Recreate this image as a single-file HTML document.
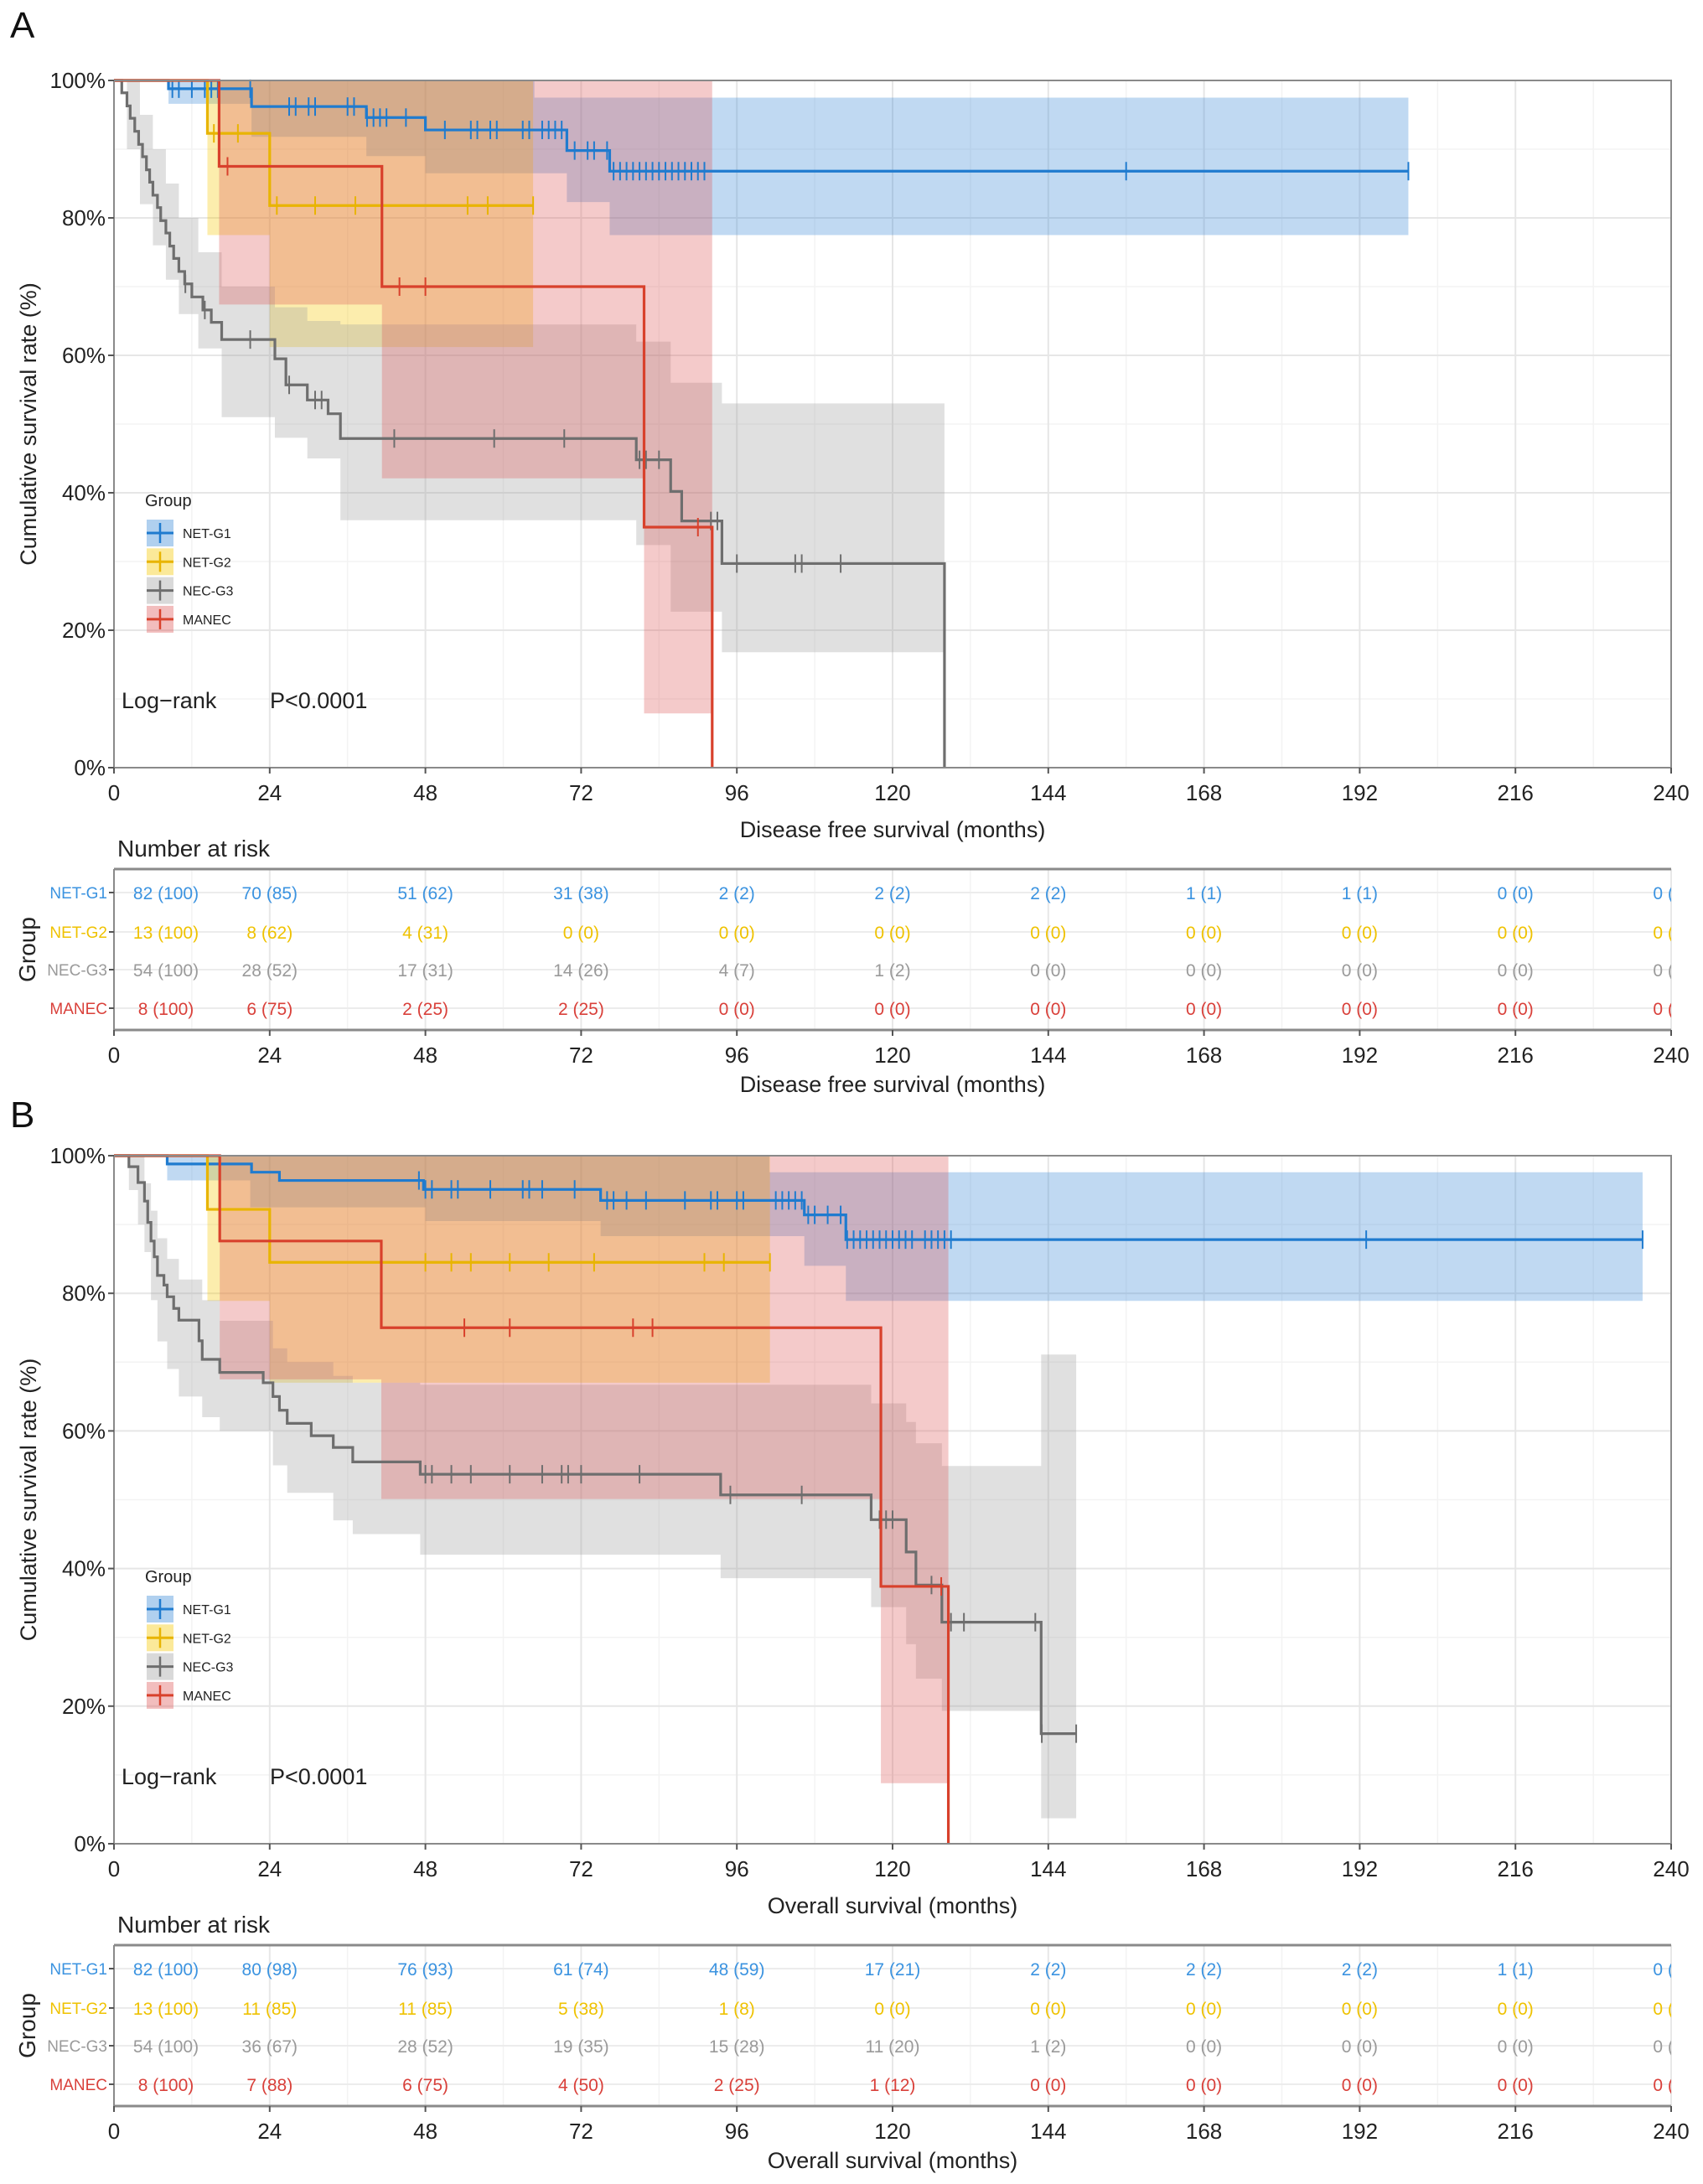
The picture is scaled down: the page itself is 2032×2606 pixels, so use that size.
<!DOCTYPE html>
<html><head><meta charset="utf-8"><style>
html,body{margin:0;padding:0;background:#fff;}
svg{display:block;font-family:"Liberation Sans",Arial,sans-serif;}
</style></head><body>
<svg id="fig" width="2032" height="2606" viewBox="0 0 2032 2606" xmlns="http://www.w3.org/2000/svg">
<defs><clipPath id="clipT"><rect x="136" y="0" width="1858" height="2606"/></clipPath></defs>
</svg>
<script>
// ---------- Panel A data (disease free survival) ----------
const aG1T=[0,8.4,21.2,38.9,48,69.8,76.4,199.5];
const aG1S=[100,98.8,96.2,94.6,92.8,89.8,86.8];
const aG1CT=[0,8.4,21.2,38.9,48,64.8,69.8,76.4,199.5];
const aG1CL=[100,96.6,91.8,89,86.5,86.5,82.3,77.5];
const aG1CU=[100,100,100,100,100,97.5,97.5,97.5];
const aG1Cens=[9,10,12,14,15,16,21,27,28,30,31,36,37,39,40,41,42,45,51,55,56,58,59,63,64,66,67,68,69,71,73,74,76,77,78,79,80,81,82,83,84,85,86,87,88,89,90,91,156,199.5];

const aG2T=[0,14.4,24,64.6];
const aG2S=[100,92.3,81.8];
const aG2CL=[100,77.5,61.2];
const aG2CU=[100,100,100];
const aG2Cens=[15.4,19.1,25.1,31,37.2,54.5,57.6,64.6];

const aG3T=[0,1.2,2,2.5,3.2,3.8,4.4,5,5.5,6,6.7,7.2,8,8.6,9.2,10,10.9,12,13.7,15,16.6,24.8,26.5,29.8,33,34.9,80.5,85.8,87.5,93.7,128];
const aG3S=[100,98.2,96.3,94.5,92.6,90.7,88.9,87,85.2,83.3,81.5,79.6,77.8,75.9,74.1,72.2,70.4,68.5,66.6,64.8,62.3,59.5,55.7,53.5,51.5,47.9,44.8,40.2,35.9,29.7];
const aG3CT=[0,2,4,6,8,10,13,16.6,24.8,29.8,34.9,80.5,85.8,93.7,128];
const aG3CL=[100,90,82,76,71,66,61,51,48,45,36,32.4,22.7,16.8];
const aG3CU=[100,100,95,90,85,80,75,70,67,65,64.5,62,56,53];
const aG3Cens=[11,14,21,27,31,32,43.2,58.6,69.4,81,82,84,92,93,96,105,106,112];

const aMaT=[0,16.2,41.3,81.7,92.2];
const aMaS=[100,87.5,70,35];
const aMaCL=[100,67.4,42.1,7.9];
const aMaCU=[100,100,100,100];
const aMaCens=[17.5,44,48,90];

// ---------- Panel B data (overall survival) ----------
const bG1T=[0,8.2,21.2,25.5,47.7,75,106.4,112.8,235.6];
const bG1S=[100,98.8,97.6,96.4,95.1,93.5,91.4,87.8];
const bG1CT=[0,8.2,21,48,75,101,106.4,112.8,235.6];
const bG1CL=[100,96.4,92.5,90.5,88.3,88.3,84,78.9];
const bG1CU=[100,100,100,100,100,97.6,97.6,97.6];
const bG1Cens=[47,48,49,52,53,58,63,64,66,71,76,77,79,82,88,92,93,96,97,102,103,104,105,106,107,108,110,112,113,114,115,116,117,118,119,120,121,122,123,125,126,127,128,129,193,235.6];

const bG2T=[0,14.4,24,101.1];
const bG2S=[100,92.2,84.5];
const bG2CL=[100,78.9,67];
const bG2CU=[100,100,100];
const bG2Cens=[48,52,55,61,67,74,91,94,101.1];

const bG3T=[0,2.3,3.7,4.7,5.2,5.7,6.2,6.7,7.7,8.2,9.2,10,13.1,13.6,16.3,23,24.5,25.5,26.7,30.4,33.8,36.8,47.2,93.5,116.7,122.1,123.6,127.6,142.9,148.3];
const bG3S=[100,98.4,96.1,93.4,90.3,87.6,85.3,82.6,81.2,79.5,77.8,76.1,73.1,70.4,68.5,67,65,63,61.1,59.3,57.6,55.5,53.7,50.7,47.1,42.4,37.6,32.2,16];
const bG3CT=[0,2.3,3.7,4.7,5.7,6.7,8.2,10,13.6,16.3,24.5,26.7,33.8,36.8,47.2,93.5,116.7,122.1,123.6,127.6,142.9,148.3];
const bG3CL=[100,95,90,86,79,73,69,65,62,60,55,51,47,45,42,38.6,34.4,29,24,19.3,3.7];
const bG3CU=[100,100,100,96,92,88,85,82,79,76,72,70,68,67,66.7,66.7,64,61.3,58.2,54.9,71.1];
const bG3Cens=[48,49,52,55,61,66,69,70,72,81,95,106,118,119,120,126,129,131,142,143,148.3];

const bMaT=[0,16.3,41.2,118.2,128.6];
const bMaS=[100,87.6,75,37.4];
const bMaCL=[100,67.5,50.1,8.8];
const bMaCU=[100,100,100,100];
const bMaCens=[54,61,80,83,127.5];

// ---------- risk tables ----------
const riskTimes=[0,24,48,72,96,120,144,168,192,216,240];
const groupNames=["NET-G1","NET-G2","NEC-G3","MANEC"];
const aRiskG1=["82 (100)","70 (85)","51 (62)","31 (38)","2 (2)","2 (2)","2 (2)","1 (1)","1 (1)","0 (0)","0 (0)"];
const aRiskG2=["13 (100)","8 (62)","4 (31)","0 (0)","0 (0)","0 (0)","0 (0)","0 (0)","0 (0)","0 (0)","0 (0)"];
const aRiskG3=["54 (100)","28 (52)","17 (31)","14 (26)","4 (7)","1 (2)","0 (0)","0 (0)","0 (0)","0 (0)","0 (0)"];
const aRiskMa=["8 (100)","6 (75)","2 (25)","2 (25)","0 (0)","0 (0)","0 (0)","0 (0)","0 (0)","0 (0)","0 (0)"];
const bRiskG1=["82 (100)","80 (98)","76 (93)","61 (74)","48 (59)","17 (21)","2 (2)","2 (2)","2 (2)","1 (1)","0 (0)"];
const bRiskG2=["13 (100)","11 (85)","11 (85)","5 (38)","1 (8)","0 (0)","0 (0)","0 (0)","0 (0)","0 (0)","0 (0)"];
const bRiskG3=["54 (100)","36 (67)","28 (52)","19 (35)","15 (28)","11 (20)","1 (2)","0 (0)","0 (0)","0 (0)","0 (0)"];
const bRiskMa=["8 (100)","7 (88)","6 (75)","4 (50)","2 (25)","1 (12)","0 (0)","0 (0)","0 (0)","0 (0)","0 (0)"];
const xTicks=[0,24,48,72,96,120,144,168,192,216,240];
const yTicks=[0,20,40,60,80,100];
const yTickLabels=["0%","20%","40%","60%","80%","100%"];

const NS="http://www.w3.org/2000/svg";
const svg=document.getElementById('fig');
const LINE={g1:"#1f7bcf",g2:"#e8b400",g3:"#6e6e6e",ma:"#d8412c"};
const BAND={g1:"#3a8ad6",g2:"#f5c800",g3:"#a0a0a0",ma:"#de5a5a"};
const TXT={g1:"#3b93e0",g2:"#efc200",g3:"#9a9a9a",ma:"#d9403a"};
function mk(tag,attrs,parent){const e=document.createElementNS(NS,tag);for(const k in attrs)e.setAttribute(k,attrs[k]);(parent||svg).appendChild(e);return e;}
const X0=136,X1=1994;
function xs(m){return X0+m*(X1-X0)/240;}

function drawPanel(opt){
  const top=opt.top,bot=opt.bot,dy=opt.dy;
  const ys=p=>bot-p*(bot-top)/100;
  const g=mk('g',{});
  
  
  // grid
  for(let m=12;m<240;m+=24){const l=mk('line',{x1:xs(m),x2:xs(m),y1:top,y2:bot,stroke:'#f3f3f3','stroke-width':1.5},g);}
  for(let p=10;p<100;p+=20){const l=mk('line',{x1:X0,x2:X1,y1:ys(p),y2:ys(p),stroke:'#f3f3f3','stroke-width':1.5},g);}
  xTicks.forEach(m=>{const l=mk('line',{x1:xs(m),x2:xs(m),y1:top,y2:bot,stroke:'#e6e6e6','stroke-width':2},g);});
  yTicks.forEach(p=>{const l=mk('line',{x1:X0,x2:X1,y1:ys(p),y2:ys(p),stroke:'#e6e6e6','stroke-width':2},g);});
  // bands
  opt.series.forEach(s=>{
    let d='';const T=s.ct,U=s.cu,L=s.cl;
    for(let i=0;i<U.length;i++){d+=(i?'L':'M')+xs(T[i])+','+ys(U[i])+'L'+xs(T[i+1])+','+ys(U[i]);}
    for(let i=L.length-1;i>=0;i--){d+='L'+xs(T[i+1])+','+ys(L[i])+'L'+xs(T[i])+','+ys(L[i]);}
    const p=mk('path',{d:d+'Z',fill:BAND[s.key],'fill-opacity':0.32,stroke:'none'},g);
    
    
  });
  // lines
  opt.series.forEach(s=>{
    let d='M'+xs(s.t[0])+','+ys(s.s[0]);
    for(let i=0;i<s.s.length;i++){
      d+='L'+xs(s.t[i])+','+ys(s.s[i])+'L'+xs(s.t[i+1])+','+ys(s.s[i]);
    }
    if(s.zero)d+='L'+xs(s.t[s.t.length-1])+','+ys(0);
    const p=mk('path',{d:d,fill:'none',stroke:LINE[s.key],'stroke-width':3.2},g);
    
    
    s.cens.forEach(c=>{
      let v=s.s[0];for(let i=0;i<s.s.length;i++){if(c>=s.t[i])v=s.s[i];}
      const l=mk('line',{x1:xs(c),x2:xs(c),y1:ys(v)-11,y2:ys(v)+11,stroke:LINE[s.key],'stroke-width':2},g);
      
      
    });
  });
  // frame
  const fr=mk('rect',{x:X0,y:top,width:X1-X0,height:bot-top,fill:'none',stroke:'#8a8a8a','stroke-width':2},g);
  
  // y ticks
  yTicks.forEach((p,i)=>{
    mk('line',{x1:X0-7,x2:X0,y1:ys(p),y2:ys(p),stroke:'#555','stroke-width':2},g);
    const t=mk('text',{x:126,y:ys(p)+9,'text-anchor':'end','font-size':26,fill:'#222'},g);
    t.textContent=yTickLabels[i];
    
  });
  xTicks.forEach(m=>{
    mk('line',{x1:xs(m),x2:xs(m),y1:bot,y2:bot+7,stroke:'#555','stroke-width':2},g);
    const t=mk('text',{x:xs(m),y:bot+39,'text-anchor':'middle','font-size':26,fill:'#222'},g);
    t.textContent=m;
    
  });
  const xt=mk('text',{x:1065,y:bot+83,'text-anchor':'middle','font-size':27,fill:'#222'},g);
  xt.textContent=opt.xtitle;
  const yt=mk('text',{x:0,y:0,'text-anchor':'middle','font-size':27,fill:'#222',transform:'translate(43,'+((top+bot)/2)+') rotate(-90)'},g);
  yt.textContent='Cumulative survival rate (%)';
  // legend
  const lg=mk('g',{},g);
  const lt=mk('text',{x:173,y:opt.legY,'font-size':20,fill:'#222'},lg);lt.textContent='Group';
  
  opt.series.forEach((s,i)=>{
    const cy=opt.legY+32+i*34.3;
    const e=mk('g',{},lg);
    mk('rect',{x:175,y:cy-16,width:32,height:32,fill:BAND[s.key],'fill-opacity':0.4},e);
    mk('line',{x1:175,x2:207,y1:cy,y2:cy,stroke:LINE[s.key],'stroke-width':3},e);
    mk('line',{x1:191,x2:191,y1:cy-12,y2:cy+12,stroke:LINE[s.key],'stroke-width':2.5},e);
    const tx=mk('text',{x:218,y:cy+6,'font-size':16,fill:'#222'},e);tx.textContent=s.label;
  });
  const lr=mk('text',{x:145,y:opt.logY,'font-size':27,fill:'#222'},g);lr.textContent='Log\u2212rank';
  
  const pv=mk('text',{x:322,y:opt.logY,'font-size':27,fill:'#222'},g);pv.textContent='P<0.0001';
  
  // panel letter
  const pl=mk('text',{x:12,y:opt.letterY,'font-size':44,fill:'#111'},g);pl.textContent=opt.letter;
  

  // risk table
  const tg=mk('g',{},g);
  const nr=mk('text',{x:140,y:1022+dy,'font-size':28,fill:'#222'},tg);nr.textContent='Number at risk';
  
  const tt=1037+dy,tb=1229+dy;const rowsY=[1065,1112,1157,1203].map(v=>v+dy);
  for(let m=12;m<240;m+=24)mk('line',{x1:xs(m),x2:xs(m),y1:tt,y2:tb,stroke:'#f3f3f3','stroke-width':1.5},tg);
  xTicks.forEach(m=>mk('line',{x1:xs(m),x2:xs(m),y1:tt,y2:tb,stroke:'#e8e8e8','stroke-width':2},tg));
  rowsY.forEach(y=>mk('line',{x1:X0,x2:X1,y1:y,y2:y,stroke:'#ececec','stroke-width':2},tg));
  mk('line',{x1:X0,x2:X1,y1:tt,y2:tt,stroke:'#8a8a8a','stroke-width':3},tg);
  mk('line',{x1:X0,x2:X1,y1:tb,y2:tb,stroke:'#8a8a8a','stroke-width':3},tg);
  mk('line',{x1:X0,x2:X0,y1:tt,y2:tb,stroke:'#8a8a8a','stroke-width':2},tg);
  const keys=['g1','g2','g3','ma'];
  const cg=mk('g',{'clip-path':'url(#clipT)'},tg);
  opt.risk.forEach((row,r)=>{
    const lab=mk('text',{x:128,y:rowsY[r]+7,'text-anchor':'end','font-size':19,fill:TXT[keys[r]]},tg);
    lab.textContent=groupNames[r];
    mk('line',{x1:130,x2:136,y1:rowsY[r],y2:rowsY[r],stroke:'#555','stroke-width':2},tg);
    row.forEach((v,i)=>{
      const x=i===0?198:xs(riskTimes[i]);
      const t=mk('text',{x:x,y:rowsY[r]+8,'text-anchor':'middle','font-size':21,fill:TXT[keys[r]]},cg);
      t.textContent=v;
    });
  });
  xTicks.forEach(m=>{
    mk('line',{x1:xs(m),x2:xs(m),y1:tb,y2:tb+7,stroke:'#555','stroke-width':2},tg);
    const t=mk('text',{x:xs(m),y:1268+dy,'text-anchor':'middle','font-size':26,fill:'#222'},tg);
    t.textContent=m;
  });
  const rt=mk('text',{x:1065,y:1303+dy,'text-anchor':'middle','font-size':27,fill:'#222'},tg);
  rt.textContent=opt.xtitle;
  const gy=mk('text',{x:0,y:0,'text-anchor':'middle','font-size':28,fill:'#222',transform:'translate(42,'+((tt+tb)/2)+') rotate(-90)'},tg);
  gy.textContent='Group';
}

drawPanel({name:'panel-a-dfs',letter:'A',letterY:45,top:96,bot:916,dy:0,legY:604,logY:845,xtitle:'Disease free survival (months)',
  series:[
    {key:'g1',label:'NET-G1',t:aG1T,s:aG1S,ct:aG1CT,cl:aG1CL,cu:aG1CU,cens:aG1Cens,zero:false},
    {key:'g2',label:'NET-G2',t:aG2T,s:aG2S,ct:aG2T,cl:aG2CL,cu:aG2CU,cens:aG2Cens,zero:false},
    {key:'g3',label:'NEC-G3',t:aG3T,s:aG3S,ct:aG3CT,cl:aG3CL,cu:aG3CU,cens:aG3Cens,zero:true},
    {key:'ma',label:'MANEC',t:aMaT,s:aMaS,ct:aMaT,cl:aMaCL,cu:aMaCU,cens:aMaCens,zero:true}],
  risk:[aRiskG1,aRiskG2,aRiskG3,aRiskMa]});
drawPanel({name:'panel-b-os',letter:'B',letterY:1345,top:1379,bot:2200,dy:1284,legY:1888,logY:2129,xtitle:'Overall survival (months)',
  series:[
    {key:'g1',label:'NET-G1',t:bG1T,s:bG1S,ct:bG1CT,cl:bG1CL,cu:bG1CU,cens:bG1Cens,zero:false},
    {key:'g2',label:'NET-G2',t:bG2T,s:bG2S,ct:bG2T,cl:bG2CL,cu:bG2CU,cens:bG2Cens,zero:false},
    {key:'g3',label:'NEC-G3',t:bG3T,s:bG3S,ct:bG3CT,cl:bG3CL,cu:bG3CU,cens:bG3Cens,zero:false},
    {key:'ma',label:'MANEC',t:bMaT,s:bMaS,ct:bMaT,cl:bMaCL,cu:bMaCU,cens:bMaCens,zero:true}],
  risk:[bRiskG1,bRiskG2,bRiskG3,bRiskMa]});
</script>
</body></html>
